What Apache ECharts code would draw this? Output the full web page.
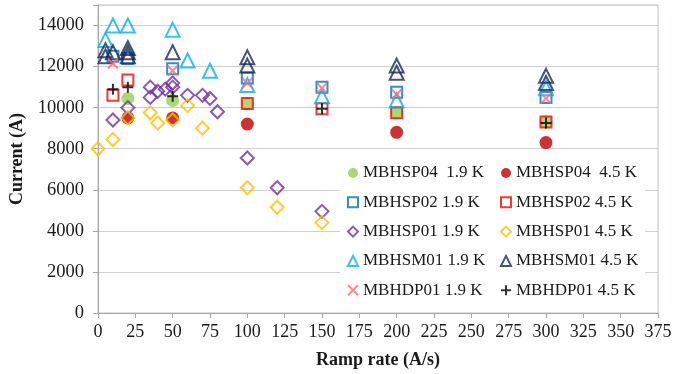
<!DOCTYPE html>
<html>
<head>
<meta charset="utf-8">
<script src="https://cdn.jsdelivr.net/npm/echarts@6/dist/echarts.min.js"></script>
<style>
  html, body { margin: 0; padding: 0; background: #fff; }
  #chart { width: 677px; height: 374px; }
</style>
</head>
<body>
<div id="chart"></div>
<script>
// Ramp rate (A/s) and quench current (A) per magnet and temperature
const sp04_19_x = [20, 50, 100, 200, 300];
const sp04_19_y = [10450, 10350, 10200, 9750, 9300];
const sp04_45_x = [20, 50, 100, 200, 300];
const sp04_45_y = [9500, 9500, 9200, 8800, 8300];
const sp02_19_x = [10, 20, 50, 100, 150, 200, 300];
const sp02_19_y = [12500, 12400, 11900, 11450, 11000, 10750, 10500];
const sp02_45_x = [10, 20, 100, 150, 200, 300];
const sp02_45_y = [10600, 11350, 10200, 9950, 9750, 9300];
const sp01_19_x = [10, 20, 35, 35, 40, 45, 50, 50, 60, 70, 75, 80, 100, 120, 150];
const sp01_19_y = [9400, 10000, 10500, 11000, 10800, 10900, 11000, 11200, 10600, 10600, 10450, 9800, 7550, 6100, 4950];
const sp01_45_x = [0, 10, 20, 35, 40, 50, 60, 70, 100, 120, 150];
const sp01_45_y = [8000, 8450, 9500, 9750, 9250, 9400, 10100, 9000, 6100, 5150, 4400];
const sm01_19_x = [5, 10, 20, 50, 60, 75, 100, 150, 200, 300];
const sm01_19_y = [13300, 14000, 14000, 13800, 12300, 11800, 11100, 10550, 10350, 10950];
const sm01_45_x = [5, 5, 10, 20, 20, 20, 50, 100, 100, 200, 200, 300, 300];
const sm01_45_y = [12800, 12500, 12700, 12900, 12700, 12500, 12700, 12450, 12050, 12050, 11700, 11550, 11200];
const dp01_19_x = [10, 50, 100, 150, 200, 300];
const dp01_19_y = [12150, 11800, 11200, 10950, 10650, 10450];
const dp01_45_x = [10, 20, 50, 150, 300];
const dp01_45_y = [10900, 11000, 10550, 9950, 9250];

const names19 = ['MBHSP04  1.9 K', 'MBHSP02 1.9 K', 'MBHSP01 1.9 K', 'MBHSM01 1.9 K', 'MBHDP01 1.9 K'];
const names45 = ['MBHSP04  4.5 K', 'MBHSP02 4.5 K', 'MBHSP01 4.5 K', 'MBHSM01 4.5 K', 'MBHDP01 4.5 K'];

const FONT = "'Liberation Serif', 'Times New Roman', serif";
const CROSS = 'path://M0,0L10,10M10,0L0,10';
const PLUS = 'path://M5,0L5,10M0,5L10,5';

function pairs(xs, ys) { return xs.map((x, i) => [x, ys[i]]); }

function filled(name, xs, ys, color, size) {
  return { name, type: 'scatter', data: pairs(xs, ys), symbol: 'circle', symbolSize: size,
    itemStyle: { color: color, borderWidth: 0 } };
}
function hollow(name, xs, ys, symbol, color, size) {
  return { name, type: 'scatter', data: pairs(xs, ys), symbol: symbol, symbolSize: size,
    itemStyle: { color: 'rgba(255,255,255,0)', borderColor: color, borderWidth: 2 } };
}

const series = [
  filled(names19[0], sp04_19_x, sp04_19_y, '#92d050', 13),
  filled(names45[0], sp04_45_x, sp04_45_y, '#c00000', 13),
  hollow(names19[1], sp02_19_x, sp02_19_y, 'rect', '#0070c0', 11),
  hollow(names45[1], sp02_45_x, sp02_45_y, 'rect', '#ff0000', 11),
  hollow(names19[2], sp01_19_x, sp01_19_y, 'diamond', '#7030a0', 13),
  hollow(names45[2], sp01_45_x, sp01_45_y, 'diamond', '#ffc000', 13),
  hollow(names19[3], sm01_19_x, sm01_19_y, 'triangle', '#00b0f0', 14),
  hollow(names45[3], sm01_45_x, sm01_45_y, 'triangle', '#16295a', 14),
  hollow(names19[4], dp01_19_x, dp01_19_y, CROSS, '#ff6677', 10),
  hollow(names45[4], dp01_45_x, dp01_45_y, PLUS, '#000000', 11)
];

const legendCommon = {
  orient: 'vertical', top: 163, padding: 0, itemWidth: 10, itemHeight: 10, itemGap: 9.3,
  textStyle: { fontFamily: FONT, fontSize: 17, color: '#1a1a1a', lineHeight: 20 }
};

const chart = echarts.init(document.getElementById('chart'), null, { renderer: 'canvas' });
chart.setOption({
  animation: false,
  backgroundColor: '#ffffff',
  grid: { left: 97, right: 19, top: 5, bottom: 60, show: true, borderColor: '#b9c3d3', borderWidth: 1, backgroundColor: '#ffffff' },
  xAxis: {
    type: 'value', min: 0, max: 375, interval: 25,
    name: 'Ramp rate (A/s)', nameLocation: 'middle', nameGap: 38,
    nameTextStyle: { fontFamily: FONT, fontSize: 18, fontWeight: 'bold', color: '#1a1a1a' },
    axisLine: { show: true, lineStyle: { color: '#a6a6a6', width: 1 } },
    axisTick: { show: true, length: 5, lineStyle: { color: '#a6a6a6' } },
    axisLabel: { fontFamily: FONT, fontSize: 18, color: '#1a1a1a', margin: 10 },
    splitLine: { show: false }
  },
  yAxis: {
    type: 'value', min: 0, max: 15000, interval: 2000,
    name: 'Current (A)', nameLocation: 'middle', nameGap: 72, nameRotate: 90,
    nameTextStyle: { fontFamily: FONT, fontSize: 18, fontWeight: 'bold', color: '#1a1a1a' },
    axisLine: { show: true, lineStyle: { color: '#a6a6a6', width: 1 } },
    axisTick: { show: true, length: 5, lineStyle: { color: '#a6a6a6' } },
    axisLabel: { fontFamily: FONT, fontSize: 18.5, color: '#1a1a1a', margin: 14,
      formatter: v => (v > 14000 ? '' : String(v)) },
    splitLine: { show: true, lineStyle: { color: '#d0d0d0', width: 1 } }
  },
  graphic: [{
    type: 'rect', z: 3, silent: true,
    shape: { x: 340, y: 155, width: 305, height: 150 },
    style: { fill: '#ffffff' }
  }],
  legend: [
    Object.assign({ left: 347, data: names19 }, legendCommon),
    Object.assign({ left: 500, data: names45 }, legendCommon)
  ],
  series: series
});
</script>
</body>
</html>
